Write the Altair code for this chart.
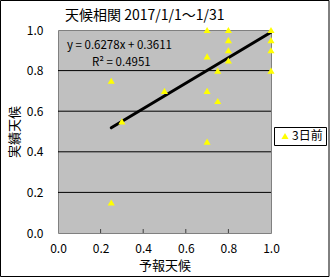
import altair as alt
import pandas as pd

# ---- data ----
forecast = [0.25, 0.25, 0.30, 0.50, 0.70, 0.70, 0.70, 0.70, 0.75, 0.75,
            0.80, 0.80, 0.80, 0.80, 1.00, 1.00, 1.00, 1.00]
actual = [0.75, 0.15, 0.55, 0.70, 1.00, 0.87, 0.70, 0.45, 0.80, 0.65,
          1.00, 0.95, 0.90, 0.85, 1.00, 0.95, 0.90, 0.80]
series_name = "3日前"
slope = 0.6278
intercept = 0.3611
fit_x = [0.25, 1.0]
x_ticks = [0.0, 0.2, 0.4, 0.6, 0.8, 1.0]
y_ticks = [0.0, 0.2, 0.4, 0.6, 0.8, 1.0]
grid_y = [0.2, 0.4, 0.6, 0.8]
inner_x_ticks = [0.2, 0.4, 0.6, 0.8]
eq_text = ["y = 0.6278x + 0.3611", "R² = 0.4951"]
title_text = "天候相関 2017/1/1～1/31"

FONT = "Noto Sans CJK JP"

df = pd.DataFrame({"予報天候": forecast, "実績天候": actual, "系列": [series_name] * len(forecast)})
fit = pd.DataFrame({"予報天候": fit_x, "実績天候": [slope * v + intercept for v in fit_x]})
grid = pd.DataFrame({"実績天候": grid_y})
ticks = pd.DataFrame({"予報天候": inner_x_ticks})

xs = alt.Scale(domain=[0, 1], nice=False, zero=False)
ys = alt.Scale(domain=[0, 1], nice=False, zero=False)

W, H = 213, 203

x_axis = alt.Axis(values=x_ticks, format=".1f", grid=False, ticks=False, domain=False,
                  labelFlush=False, labelBound=False,
                  labelPadding=10, labelFontSize=12, labelFont=FONT, labelColor="black",
                  title="予報天候", titleFont=FONT, titleFontSize=13, titleFontWeight="normal",
                  titlePadding=5, titleColor="black")
y_axis = alt.Axis(values=y_ticks, format=".1f", grid=False, ticks=False, domain=False,
                  labelFlush=False, labelBound=False,
                  labelPadding=15, labelFontSize=12, labelFont=FONT, labelColor="black",
                  title="実績天候", titleFont=FONT, titleFontSize=13, titleFontWeight="normal",
                  titlePadding=5, titleColor="black")

X = alt.X("予報天候:Q", scale=xs, axis=x_axis)
Y = alt.Y("実績天候:Q", scale=ys, axis=y_axis)

gridlines = alt.Chart(grid).mark_rule(color="black", strokeWidth=1).encode(y=Y)

xtickmarks = alt.Chart(ticks).mark_rule(color="#404040", strokeWidth=1).encode(
    x=X, y=alt.value(H - 4), y2=alt.value(H),
)

points = alt.Chart(df).mark_point(shape="triangle-up", filled=True, size=50, opacity=1).encode(
    x=X, y=Y,
    color=alt.Color("系列:N", scale=alt.Scale(range=["#FFFF00"]),
                    legend=alt.Legend(title=None, orient="none", legendX=W + 3, legendY=97,
                                      strokeColor="black", fillColor="white", padding=3,
                                      symbolType="triangle-up", symbolSize=50, symbolStrokeWidth=0,
                                      labelFont=FONT, labelFontSize=12, labelColor="black",
                                      labelOffset=1, symbolOffset=2)),
)

trend = alt.Chart(fit).mark_line(color="black", strokeWidth=3, strokeCap="round").encode(x=X, y=Y)

eq_df = pd.DataFrame({"t": eq_text, "px": [9, 34], "py": [16, 33]})
eq = alt.Chart(eq_df).mark_text(font=FONT, fontSize=11.5, align="left", baseline="middle", color="black").encode(
    text="t:N", x=alt.X("px:Q", scale=None, axis=None), y=alt.Y("py:Q", scale=None, axis=None)
)

title_df = pd.DataFrame({"t": [title_text]})
title_mark = alt.Chart(title_df).mark_text(font=FONT, fontSize=14, align="left", baseline="middle",
                                           color="black").encode(
    text="t:N", x=alt.value(7), y=alt.value(-14)
)

border = alt.Chart(pd.DataFrame({"a": [0]})).mark_rect(fill=None, stroke="black", strokeWidth=1).encode(
    x=alt.value(-57.5), x2=alt.value(329 - 58), y=alt.value(-29.5), y2=alt.value(276.5 - 30)
)

chart = alt.layer(gridlines, xtickmarks, trend, points, eq, title_mark, border).properties(
    width=W, height=H,
    autosize=alt.AutoSizeParams(type="none"),
    padding={"left": 58, "top": 30, "right": 330 - 58 - W, "bottom": 278 - 30 - H},
    background="white",
).configure_view(
    fill="#C0C0C0", stroke="#808080", strokeWidth=1
)

chart.save("out.html", embed_options={"renderer": "svg", "actions": False})
